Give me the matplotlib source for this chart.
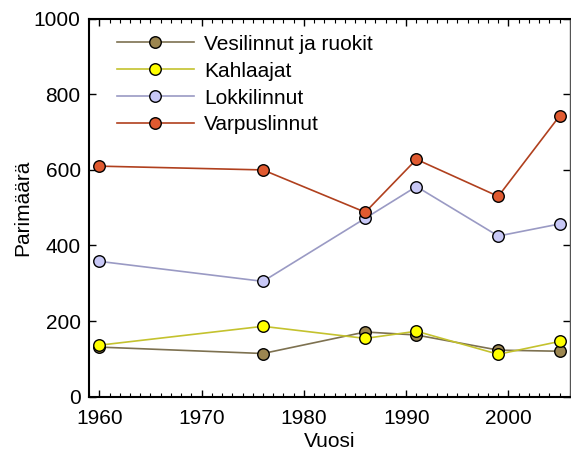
import matplotlib
matplotlib.use("Agg")
import matplotlib.pyplot as plt
from matplotlib.ticker import MultipleLocator

plt.rcParams['font.family'] = ['Liberation Sans', 'DejaVu Sans']

years = [1960, 1976, 1986, 1991, 1999, 2005]
vesilinnut = [131, 114, 171, 163, 123, 120]
kahlaajat = [136, 186, 154, 173, 112, 146]
lokkilinnut = [358, 305, 472, 556, 425, 457]
varpuslinnut = [610, 600, 488, 628, 530, 743]

series = [
    ("Vesilinnut ja ruokit", vesilinnut, "#7d7150", "#9c8650"),
    ("Kahlaajat", kahlaajat, "#c4c22e", "#ffff00"),
    ("Lokkilinnut", lokkilinnut, "#9a9ac4", "#c8c8f6"),
    ("Varpuslinnut", varpuslinnut, "#b0401e", "#e05a30"),
]

fig = plt.figure(figsize=(5.71, 4.59), dpi=100)
ax = fig.add_axes([0.156, 0.136, 0.842, 0.823])

for name, vals, lc, mc in series:
    ax.plot(years, vals, color=lc, lw=1.2, marker='o', markersize=8.3,
            markerfacecolor=mc, markeredgecolor='black', markeredgewidth=1.0,
            label=name)

ax.set_xlim(1959, 2006)
ax.set_ylim(0, 1000)
ax.xaxis.set_major_locator(MultipleLocator(10))
ax.xaxis.set_minor_locator(MultipleLocator(1))
ax.yaxis.set_major_locator(MultipleLocator(200))
ax.tick_params(axis='both', which='major', direction='in', length=5, width=1,
               labelsize=15, top=True, right=True)
ax.tick_params(axis='y', which='major', pad=6)
ax.tick_params(axis='x', which='major', pad=9)
ax.tick_params(axis='x', which='minor', direction='in', length=3, width=0.8, top=True)
ax.set_xlabel("Vuosi", fontsize=15, labelpad=3)
ax.set_ylabel("Parimäärä", fontsize=15, labelpad=1)

for side in ['left', 'bottom', 'top']:
    ax.spines[side].set_linewidth(1.5)
    ax.spines[side].set_color('black')
ax.spines['right'].set_linewidth(1.0)
ax.spines['right'].set_color('#555555')

leg = ax.legend(loc='upper left', frameon=False, fontsize=15, handlelength=3.7,
                handletextpad=0.5, labelspacing=0.38, borderaxespad=0.0,
                bbox_to_anchor=(0.04, 0.98))

fig.savefig("out.png", dpi=100)
